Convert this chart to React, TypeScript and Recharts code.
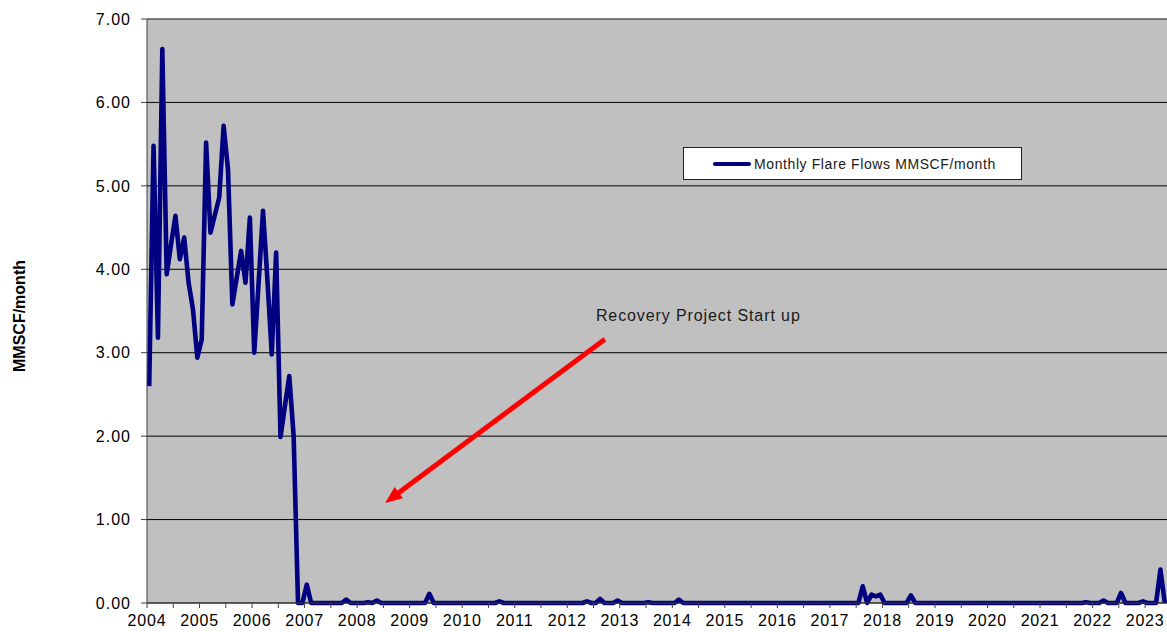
import { LineChart, Line, XAxis, YAxis, CartesianGrid, Legend, ReferenceLine } from 'recharts';

// monthly flare flows, one row per year, Jan 2004 .. May 2023
const flows2004 = [2.6, 5.48, 3.18, 6.64, 3.94, 4.3, 4.64, 4.12, 4.38, 3.84, 3.52, 2.94];
const flows2005 = [3.16, 5.52, 4.44, 4.65, 4.86, 5.72, 5.2, 3.58, 3.9, 4.22, 3.84, 4.62];
const flows2006 = [3.0, 3.84, 4.7, 3.88, 2.98, 4.2, 1.99, 2.36, 2.72, 2.0, 0, 0];
const flows2007 = [0.22, 0, 0, 0, 0, 0, 0, 0, 0, 0.04, 0, 0];
const flows2008 = [0, 0, 0.01, 0, 0.03, 0, 0, 0, 0, 0, 0, 0];
const flows2009 = [0, 0, 0, 0, 0.11, 0, 0, 0, 0, 0, 0, 0];
const flows2010 = [0, 0, 0, 0, 0, 0, 0, 0, 0.02, 0, 0, 0];
const flows2011 = [0, 0, 0, 0, 0, 0, 0, 0, 0, 0, 0, 0];
const flows2012 = [0, 0, 0, 0, 0.02, 0, 0, 0.05, 0, 0, 0, 0.03];
const flows2013 = [0, 0, 0, 0, 0, 0, 0.01, 0, 0, 0, 0, 0];
const flows2014 = [0, 0.04, 0, 0, 0, 0, 0, 0, 0, 0, 0, 0];
const flows2015 = [0, 0, 0, 0, 0, 0, 0, 0, 0, 0, 0, 0];
const flows2016 = [0, 0, 0, 0, 0, 0, 0, 0, 0, 0, 0, 0];
const flows2017 = [0, 0, 0, 0, 0, 0, 0, 0.2, 0, 0.1, 0.08, 0.1];
const flows2018 = [0, 0, 0, 0, 0, 0, 0.09, 0, 0, 0, 0, 0];
const flows2019 = [0, 0, 0, 0, 0, 0, 0, 0, 0, 0, 0, 0];
const flows2020 = [0, 0, 0, 0, 0, 0, 0, 0, 0, 0, 0, 0];
const flows2021 = [0, 0, 0, 0, 0, 0, 0, 0, 0, 0, 0.01, 0];
const flows2022 = [0, 0, 0.03, 0, 0, 0, 0.12, 0, 0, 0, 0, 0.02];
const flows2023 = [0, 0, 0, 0.4, 0];

const monthlyFlows = [
  ...flows2004, ...flows2005, ...flows2006, ...flows2007, ...flows2008,
  ...flows2009, ...flows2010, ...flows2011, ...flows2012, ...flows2013,
  ...flows2014, ...flows2015, ...flows2016, ...flows2017, ...flows2018,
  ...flows2019, ...flows2020, ...flows2021, ...flows2022, ...flows2023,
];

const firstYear = 2004;
const yTicks = [0, 1, 2, 3, 4, 5, 6, 7];
const seriesName = 'Monthly Flare Flows MMSCF/month';
const annotationText = 'Recovery Project Start up';

// points sit in the middle of their month slot
const data = monthlyFlows.map((value, i) => ({ t: i + 0.5, value }));
const monthCount = monthlyFlows.length;
const xTicks: number[] = [];
for (let m = 0; m <= monthCount - 1; m += 6) xTicks.push(m);

const font = '"Liberation Sans", Arial, sans-serif';
const navy = '#000080';

const YLabel = (props: any) => {
  const vb = props.viewBox || { x: 0, y: 0, height: 0 };
  const x = vb.x + 19;
  const y = vb.y + vb.height / 2 + 5;
  return (
    <text
      x={x}
      y={y}
      transform={`rotate(-90, ${x}, ${y})`}
      textAnchor="middle"
      dominantBaseline="central"
      fontFamily={font}
      fontSize={16}
      fontWeight="bold"
      fill="#000"
    >
      MMSCF/month
    </text>
  );
};

const ArrowShape = (props: any) => {
  const { x1, y1, x2, y2 } = props;
  if ([x1, y1, x2, y2].some((v) => typeof v !== 'number' || isNaN(v))) return <g />;
  const dx = x2 - x1;
  const dy = y2 - y1;
  const len = Math.sqrt(dx * dx + dy * dy);
  const ux = dx / len;
  const uy = dy / len;
  const headLen = 17;
  const headHalf = 7;
  const bx = x2 - ux * headLen;
  const by = y2 - uy * headLen;
  const lx = x2 - ux * headLen * 0.7;
  const ly = y2 - uy * headLen * 0.7;
  return (
    <g>
      <line x1={x1} y1={y1} x2={lx} y2={ly} stroke="#ff0000" strokeWidth={5} />
      <polygon
        points={`${x2},${y2} ${bx - uy * headHalf},${by + ux * headHalf} ${bx + uy * headHalf},${by - ux * headHalf}`}
        fill="#ff0000"
      />
      <text x={x1 - 9} y={y1 - 18} fontFamily={font} fontSize={16} letterSpacing={0.9} fill="#1a1a1a">
        {annotationText}
      </text>
    </g>
  );
};

const LegendBox = () => (
  <div
    style={{
      boxSizing: 'border-box',
      width: 339,
      height: 33,
      background: '#fff',
      border: '1px solid #222',
      display: 'flex',
      alignItems: 'center',
      fontFamily: font,
      fontSize: 14,
      letterSpacing: 0.6,
      color: '#1a1a1a',
    }}
  >
    <span style={{ display: 'inline-block', width: 38, height: 4, background: navy, borderRadius: 2, marginLeft: 29 }} />
    <span style={{ marginLeft: 3, whiteSpace: 'nowrap' }}>{seriesName}</span>
  </div>
);

export default function App() {
  return (
    <div style={{ position: 'absolute', left: 0, top: 0, width: 1167, height: 632, background: '#fff' }}>
      <LineChart width={1167} height={632} data={data} margin={{ top: 19, right: 0, bottom: 0, left: 0 }}>
        <CartesianGrid vertical={false} stroke="#000" fill="#c0c0c0" fillOpacity={1} />
        <XAxis
          type="number"
          dataKey="t"
          domain={[0, monthCount]}
          ticks={xTicks}
          interval={0}
          height={29}
          tickSize={5}
          tickMargin={7}
          tickFormatter={(m: number) => (m % 12 === 0 ? String(firstYear + m / 12) : '')}
          axisLine={{ stroke: '#404040' }}
          tickLine={{ stroke: '#404040' }}
          tick={{ fill: '#000', fontSize: 16, fontFamily: font, letterSpacing: 0.8 }}
        />
        <YAxis
          type="number"
          domain={[0, 7]}
          ticks={yTicks}
          interval={0}
          width={147}
          tickSize={6}
          tickMargin={10}
          tickFormatter={(v: number) => v.toFixed(2)}
          axisLine={{ stroke: '#404040' }}
          tickLine={{ stroke: '#404040' }}
          tick={{ fill: '#000', fontSize: 16, fontFamily: font, letterSpacing: 1 }}
          label={YLabel}
        />
        <ReferenceLine y={7} stroke="#808080" strokeWidth={1} />
        <ReferenceLine
          segment={[
            { x: 104.6, y: 3.16 },
            { x: 54.4, y: 1.2 },
          ]}
          shape={ArrowShape}
        />
        <Legend
          layout="vertical"
          align="center"
          verticalAlign="middle"
          content={LegendBox}
          wrapperStyle={{ left: 683, top: 147, width: 339, height: 33 }}
        />
        <Line
          type="linear"
          dataKey="value"
          name={seriesName}
          stroke={navy}
          strokeWidth={4.6}
          strokeLinejoin="round"
          dot={false}
          activeDot={false}
          isAnimationActive={false}
        />
      </LineChart>
    </div>
  );
}
